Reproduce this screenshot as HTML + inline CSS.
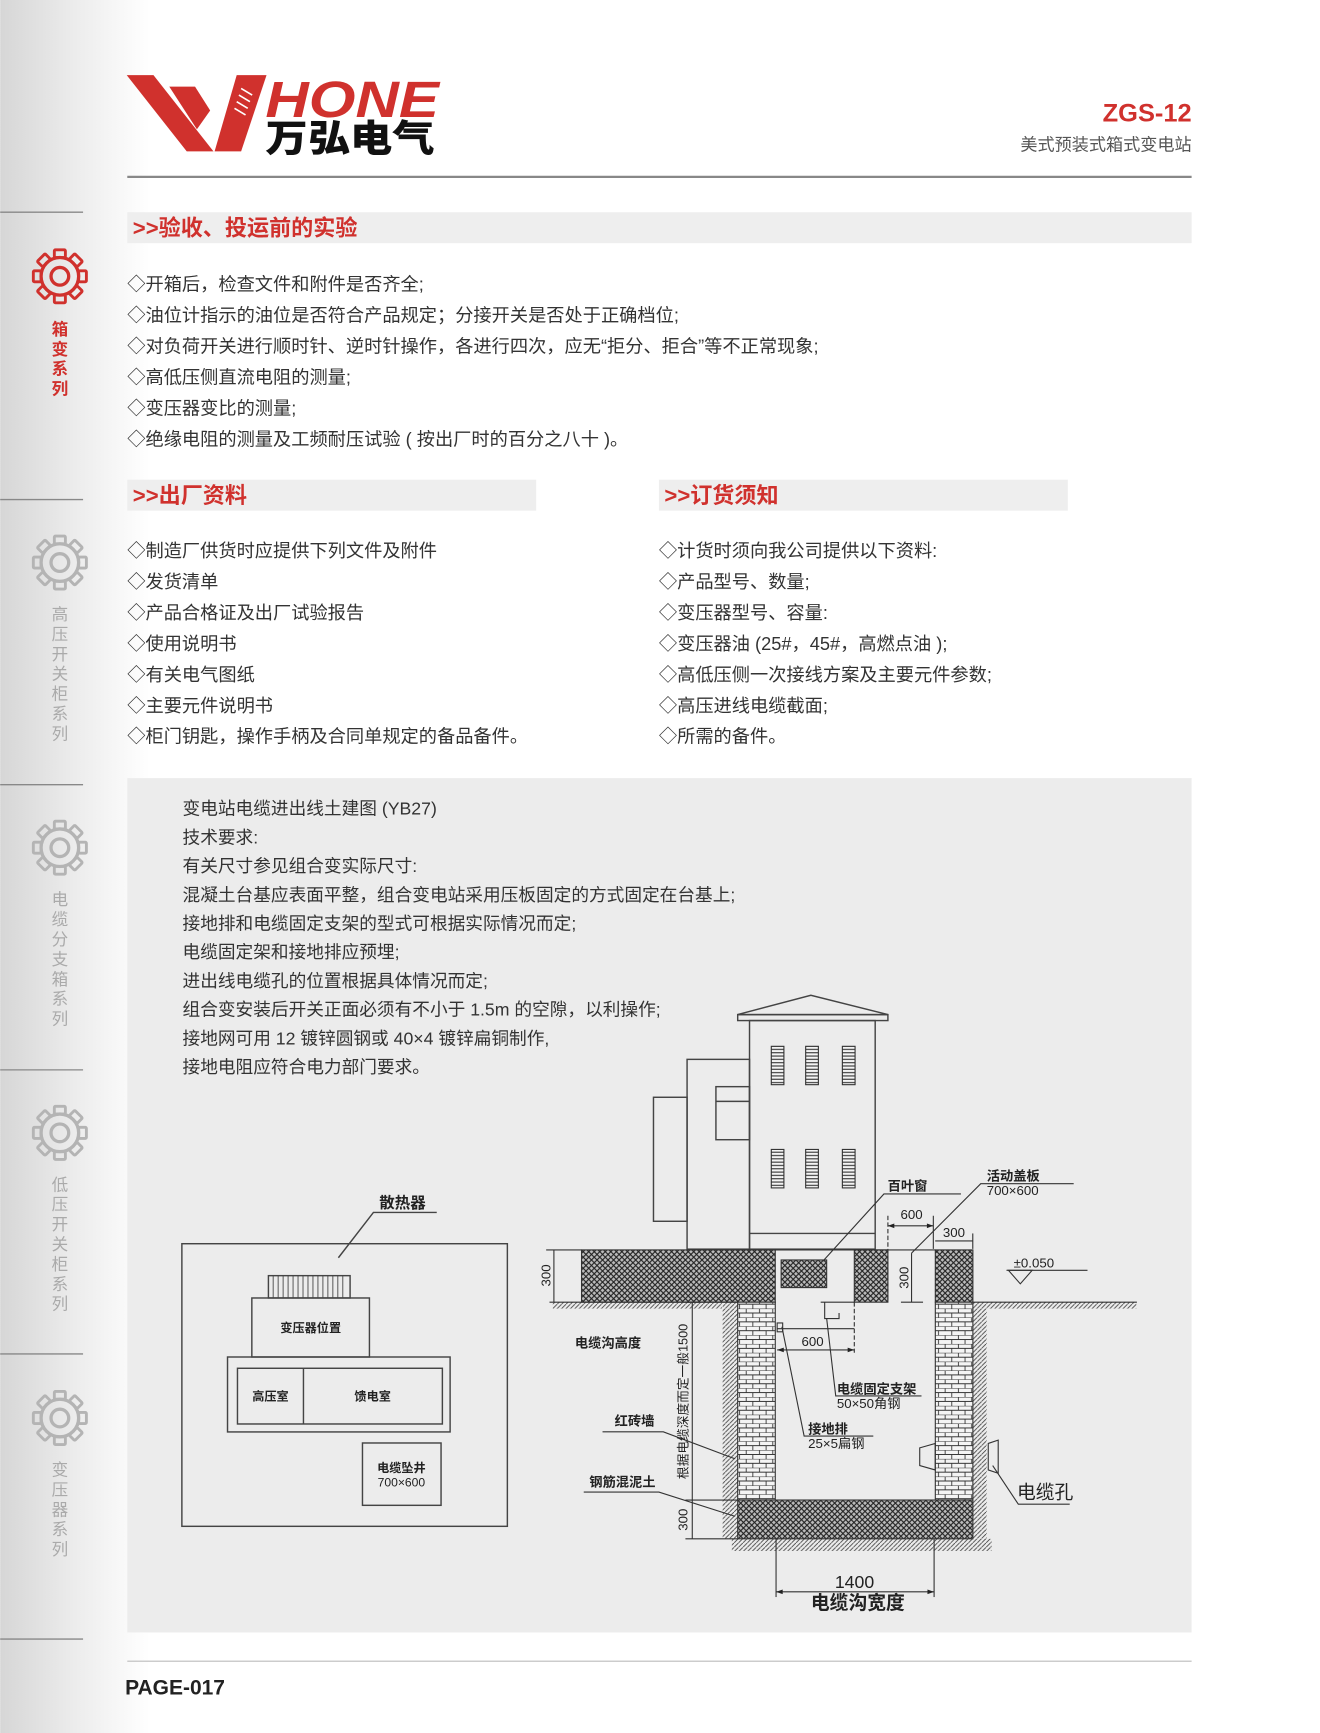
<!DOCTYPE html>
<html><head><meta charset="utf-8"><style>
html,body{margin:0;padding:0;background:#fff;}
svg{display:block;}
text{font-family:"Liberation Sans","Noto Sans CJK SC",sans-serif;}
</style></head><body>
<svg width="1320" height="1733" viewBox="0 0 1194 1568" xmlns="http://www.w3.org/2000/svg">
<defs>
<linearGradient id="side" x1="0" x2="1" y1="0" y2="0">
<stop offset="0" stop-color="#d6d6d6"/><stop offset="0.5" stop-color="#ececec"/><stop offset="1" stop-color="#ffffff"/>
</linearGradient>
<pattern id="cross" width="5" height="5" patternUnits="userSpaceOnUse">
<rect width="5" height="5" fill="#bbb"/>
<path d="M0,0L5,5M5,0L0,5" stroke="#222" stroke-width="1"/>
</pattern>
<pattern id="brick" width="12" height="8" patternUnits="userSpaceOnUse">
<rect width="12" height="8" fill="#f4f4f4"/>
<path d="M0,0H12M0,4H12M3,0V4M9,4V8" stroke="#333" stroke-width="0.8"/>
</pattern>
<pattern id="earth" width="4" height="4" patternUnits="userSpaceOnUse">
<path d="M0,4L4,0" stroke="#444" stroke-width="0.8"/>
</pattern>
<pattern id="slat" width="4" height="3" patternUnits="userSpaceOnUse">
<rect width="4" height="3" fill="#f4f4f4"/>
<path d="M0,1.5H4" stroke="#333" stroke-width="1"/>
</pattern>
<g id="gear">
<circle r="17" fill="none" stroke="currentColor" stroke-width="3"/>
<circle r="8" fill="none" stroke="currentColor" stroke-width="3"/>
<g fill="none" stroke="currentColor" stroke-width="2.6">
<rect x="-5" y="-24" width="10" height="7" rx="1"/>
<rect x="-5" y="-24" width="10" height="7" rx="1" transform="rotate(45)"/>
<rect x="-5" y="-24" width="10" height="7" rx="1" transform="rotate(90)"/>
<rect x="-5" y="-24" width="10" height="7" rx="1" transform="rotate(135)"/>
<rect x="-5" y="-24" width="10" height="7" rx="1" transform="rotate(180)"/>
<rect x="-5" y="-24" width="10" height="7" rx="1" transform="rotate(225)"/>
<rect x="-5" y="-24" width="10" height="7" rx="1" transform="rotate(270)"/>
<rect x="-5" y="-24" width="10" height="7" rx="1" transform="rotate(315)"/>
</g>
</g>
</defs>
<rect width="1194" height="1568" fill="#fff"/>
<rect width="135" height="1568" fill="url(#side)"/>
<g stroke="#888" stroke-width="1.2">
<line x1="0" y1="192" x2="75" y2="192"/><line x1="0" y1="452" x2="75" y2="452"/>
<line x1="0" y1="710" x2="75" y2="710"/><line x1="0" y1="968" x2="75" y2="968"/>
<line x1="0" y1="1225" x2="75" y2="1225"/><line x1="0" y1="1483" x2="75" y2="1483"/>
</g>
<use href="#gear" x="54" y="250" style="color:#d0312d"/>
<use href="#gear" x="54" y="509" style="color:#b4b4b4"/>
<use href="#gear" x="54" y="767" style="color:#b4b4b4"/>
<use href="#gear" x="54" y="1025" style="color:#b4b4b4"/>
<use href="#gear" x="54" y="1283" style="color:#b4b4b4"/>
<g font-size="15" text-anchor="middle" fill="#d0312d" font-weight="bold">
<text x="54" y="303">箱</text><text x="54" y="321">变</text><text x="54" y="339">系</text><text x="54" y="357">列</text>
</g>
<g font-size="15" text-anchor="middle" fill="#aaa">
<text x="54" y="561">高</text><text x="54" y="579">压</text><text x="54" y="597">开</text><text x="54" y="615">关</text><text x="54" y="633">柜</text><text x="54" y="651">系</text><text x="54" y="669">列</text>
<text x="54" y="819">电</text><text x="54" y="837">缆</text><text x="54" y="855">分</text><text x="54" y="873">支</text><text x="54" y="891">箱</text><text x="54" y="909">系</text><text x="54" y="927">列</text>
<text x="54" y="1077">低</text><text x="54" y="1095">压</text><text x="54" y="1113">开</text><text x="54" y="1131">关</text><text x="54" y="1149">柜</text><text x="54" y="1167">系</text><text x="54" y="1185">列</text>
<text x="54" y="1335">变</text><text x="54" y="1353">压</text><text x="54" y="1371">器</text><text x="54" y="1389">系</text><text x="54" y="1407">列</text>
</g>
<!-- logo -->
<g fill="#d0312d">
<polygon points="114.5,68 138.7,68 193,137 168.8,137"/>
<polygon points="153,78.4 176.3,78.4 190,100 178,117"/>
<polygon points="214,68 241,68 218,137 194,137"/>
</g>
<g stroke="#fff" stroke-width="1.5"><line x1="218" y1="80" x2="228" y2="86"/><line x1="216" y1="86" x2="226" y2="92"/><line x1="214" y1="92" x2="224" y2="98"/><line x1="212" y1="98" x2="222" y2="104"/></g>
<text x="240" y="106" font-size="46" font-weight="bold" font-style="italic" fill="#d0312d" textLength="157" lengthAdjust="spacingAndGlyphs">HONE</text>
<text x="240" y="137" font-size="34" font-weight="900" fill="#111" textLength="153" lengthAdjust="spacingAndGlyphs">万弘电气</text>
<text x="1078" y="110" font-size="23" font-weight="bold" fill="#d0312d" text-anchor="end">ZGS-12</text>
<text x="1078" y="136" font-size="15.5" fill="#555" text-anchor="end">美式预装式箱式变电站</text>
<line x1="115" y1="160" x2="1078" y2="160" stroke="#888" stroke-width="2"/>
<!-- sections -->
<rect x="115" y="192" width="963" height="28" fill="#eeeeee"/>
<text x="120" y="213" font-size="20" font-weight="bold" fill="#d0312d">&gt;&gt;验收、投运前的实验</text>
<g font-size="16.5" fill="#333">
<text x="115" y="263">◇开箱后，检查文件和附件是否齐全;</text>
<text x="115" y="291">◇油位计指示的油位是否符合产品规定；分接开关是否处于正确档位;</text>
<text x="115" y="319">◇对负荷开关进行顺时针、逆时针操作，各进行四次，应无“拒分、拒合”等不正常现象;</text>
<text x="115" y="347">◇高低压侧直流电阻的测量;</text>
<text x="115" y="375">◇变压器变比的测量;</text>
<text x="115" y="403">◇绝缘电阻的测量及工频耐压试验 ( 按出厂时的百分之八十 )。</text>
</g>
<rect x="115" y="434" width="370" height="28" fill="#eeeeee"/>
<text x="120" y="455" font-size="20" font-weight="bold" fill="#d0312d">&gt;&gt;出厂资料</text>
<rect x="596" y="434" width="370" height="28" fill="#eeeeee"/>
<text x="601" y="455" font-size="20" font-weight="bold" fill="#d0312d">&gt;&gt;订货须知</text>
<g font-size="16.5" fill="#333">
<text x="115" y="504">◇制造厂供货时应提供下列文件及附件</text>
<text x="115" y="532">◇发货清单</text>
<text x="115" y="560">◇产品合格证及出厂试验报告</text>
<text x="115" y="588">◇使用说明书</text>
<text x="115" y="616">◇有关电气图纸</text>
<text x="115" y="644">◇主要元件说明书</text>
<text x="115" y="672">◇柜门钥匙，操作手柄及合同单规定的备品备件。</text>
<text x="596" y="504">◇计货时须向我公司提供以下资料:</text>
<text x="596" y="532">◇产品型号、数量;</text>
<text x="596" y="560">◇变压器型号、容量:</text>
<text x="596" y="588">◇变压器油 (25#，45#，高燃点油 );</text>
<text x="596" y="616">◇高低压侧一次接线方案及主要元件参数;</text>
<text x="596" y="644">◇高压进线电缆截面;</text>
<text x="596" y="672">◇所需的备件。</text>
</g>
<!-- diagram panel -->
<rect x="115" y="704" width="963" height="773" fill="#ececec"/>
<g font-size="16" fill="#333">
<text x="165" y="737">变电站电缆进出线土建图 (YB27)</text>
<text x="165" y="763">技术要求:</text>
<text x="165" y="789">有关尺寸参见组合变实际尺寸:</text>
<text x="165" y="815">混凝土台基应表面平整，组合变电站采用压板固定的方式固定在台基上;</text>
<text x="165" y="841">接地排和电缆固定支架的型式可根据实际情况而定;</text>
<text x="165" y="867">电缆固定架和接地排应预埋;</text>
<text x="165" y="893">进出线电缆孔的位置根据具体情况而定;</text>
<text x="165" y="919">组合变安装后开关正面必须有不小于 1.5m 的空隙，以利操作;</text>
<text x="165" y="945">接地网可用 12 镀锌圆钢或 40×4 镀锌扁铜制作,</text>
<text x="165" y="971">接地电阻应符合电力部门要求。</text>
</g>
<!-- left plan -->
<g fill="none" stroke="#444" stroke-width="1.3">
<rect x="164.4" y="1125.3" width="294.5" height="255.7"/>
<rect x="227.7" y="1174.4" width="106.4" height="53.4"/>
<rect x="242.7" y="1154.2" width="73.9" height="20.2"/>
<rect x="205.7" y="1227.8" width="201.4" height="67.8"/>
<rect x="214.7" y="1238" width="185.4" height="50.4"/>
<line x1="274.4" y1="1238" x2="274.4" y2="1288.4"/>
<rect x="327.8" y="1305.6" width="71.1" height="56.4"/>
<polyline points="395,1097 337.7,1097 306,1138"/>
</g>
<g stroke="#444" stroke-width="0.8">
<line x1="247" y1="1154" x2="247" y2="1174"/><line x1="251.5" y1="1154" x2="251.5" y2="1174"/><line x1="256" y1="1154" x2="256" y2="1174"/><line x1="260.5" y1="1154" x2="260.5" y2="1174"/><line x1="265" y1="1154" x2="265" y2="1174"/><line x1="269.5" y1="1154" x2="269.5" y2="1174"/><line x1="274" y1="1154" x2="274" y2="1174"/><line x1="278.5" y1="1154" x2="278.5" y2="1174"/><line x1="283" y1="1154" x2="283" y2="1174"/><line x1="287.5" y1="1154" x2="287.5" y2="1174"/><line x1="292" y1="1154" x2="292" y2="1174"/><line x1="296.5" y1="1154" x2="296.5" y2="1174"/><line x1="301" y1="1154" x2="301" y2="1174"/><line x1="305.5" y1="1154" x2="305.5" y2="1174"/><line x1="310" y1="1154" x2="310" y2="1174"/>
</g>
<g font-size="11" fill="#222" text-anchor="middle" font-weight="bold">
<text x="364" y="1093" font-size="14">散热器</text>
<text x="281" y="1205">变压器位置</text>
<text x="244.5" y="1267">高压室</text>
<text x="337" y="1267">馈电室</text>
<text x="363" y="1332">电缆坠井</text>
<text x="363" y="1345" font-weight="normal">700×600</text>
</g>
<!-- right section -->
<g fill="none" stroke="#444" stroke-width="1.3">
<polygon points="667.3,918 733.5,900.5 803.2,918"/>
<rect x="667.3" y="918" width="135.9" height="5.4"/>
<rect x="678" y="923.4" width="113.7" height="206.8"/>
<line x1="678" y1="1116" x2="791.7" y2="1116"/>
<rect x="621.5" y="958.5" width="56.5" height="171.7"/>
<rect x="591.1" y="992.8" width="30.4" height="112.2"/>
<rect x="647.6" y="983.2" width="30.4" height="48"/>
<line x1="647.6" y1="996.5" x2="678" y2="996.5"/>
</g>
<g fill="url(#slat)" stroke="#333" stroke-width="1">
<rect x="697.7" y="946.7" width="11.4" height="34.7"/><rect x="728.8" y="946.7" width="11.5" height="34.7"/><rect x="762" y="946.7" width="11.5" height="34.7"/>
<rect x="697.7" y="1040" width="11.4" height="34.8"/><rect x="728.8" y="1040" width="11.5" height="34.8"/><rect x="762" y="1040" width="11.5" height="34.8"/>
</g>
<g stroke="#333" stroke-width="1">
<rect x="526" y="1130.9" width="175.3" height="47.3" fill="url(#cross)"/>
<rect x="706.6" y="1140" width="41.2" height="25" fill="url(#cross)"/>
<rect x="772.8" y="1130.9" width="30.4" height="47.3" fill="url(#cross)"/>
<rect x="846.1" y="1130.9" width="34" height="47.3" fill="url(#cross)"/>
<rect x="653.7" y="1178.2" width="13.6" height="214" fill="url(#earth)" stroke="none"/>
<rect x="880.1" y="1178.2" width="12.5" height="214" fill="url(#earth)" stroke="none"/>
<rect x="662" y="1392.3" width="235" height="11" fill="url(#earth)" stroke="none"/>
<rect x="500" y="1178.2" width="153" height="6" fill="url(#earth)" stroke="none"/>
<rect x="893" y="1178.2" width="135" height="6" fill="url(#earth)" stroke="none"/>
<rect x="667.3" y="1178.2" width="34" height="179" fill="url(#brick)"/>
<rect x="846.1" y="1178.2" width="34" height="179" fill="url(#brick)"/>
<rect x="667.3" y="1357.2" width="212.8" height="35.1" fill="url(#cross)"/>
</g>
<g fill="none" stroke="#333" stroke-width="1">
<line x1="701.3" y1="1130.9" x2="846.1" y2="1130.9"/>
<line x1="497" y1="1178.2" x2="667.3" y2="1178.2"/>
<line x1="880" y1="1178.2" x2="1028.5" y2="1178.2"/>
<line x1="494" y1="1130.9" x2="526" y2="1130.9"/>
<line x1="501" y1="1130.9" x2="501" y2="1178.2"/>
<line x1="626.2" y1="1178.2" x2="626.2" y2="1392.3"/>
<line x1="620" y1="1357.2" x2="667" y2="1357.2"/>
<line x1="620" y1="1392.3" x2="667" y2="1392.3"/>
<line x1="620" y1="1178.2" x2="632" y2="1178.2"/>
<line x1="803.2" y1="1109.1" x2="844.3" y2="1109.1"/>
<line x1="803.2" y1="1100" x2="803.2" y2="1178" stroke-dasharray="4,2"/>
<line x1="844.3" y1="1100" x2="844.3" y2="1130"/>
<line x1="846" y1="1122.8" x2="880" y2="1122.8"/>
<line x1="880" y1="1116" x2="880" y2="1130"/>
<line x1="824.6" y1="1133.8" x2="824.6" y2="1178.2"/>
<line x1="815" y1="1178.2" x2="835" y2="1178.2"/>
<line x1="910.5" y1="1149.4" x2="983.8" y2="1149.4"/>
<polygon points="912.3,1149.4 933.7,1149.4 923,1161.6"/>
<polyline points="742.4,1178.2 772.8,1178.2"/>
<polyline points="746,1178.2 746,1193 759,1193 759,1188"/>
<line x1="772.8" y1="1178.2" x2="772.8" y2="1224" stroke-dasharray="4,2"/>
<line x1="703" y1="1202.2" x2="772.8" y2="1202.2"/>
<line x1="703" y1="1221.4" x2="772.8" y2="1221.4"/>
<rect x="703" y="1197" width="5" height="8"/>
<polyline points="747.8,1193 756,1263 833.6,1263"/>
<polyline points="707.3,1200.4 727.4,1299.3 790,1299.3"/>
<polyline points="869.3,1080.3 799.6,1080.3 744.2,1141.3"/>
<polyline points="971.3,1071 887.2,1071 824.6,1133.8"/>
<polyline points="545,1295.5 600,1295.5 665,1320"/>
<polyline points="528,1350 596,1350 665,1372"/>
<polyline points="898,1326 921.2,1361 967.7,1361"/>
<polygon points="832,1310 846,1306 846,1330 832,1326"/>
<polygon points="894,1306 903,1303 903,1333 894,1330"/>
<line x1="702" y1="1392" x2="702" y2="1445"/>
<line x1="845" y1="1392" x2="845" y2="1445"/>
<line x1="702" y1="1440.3" x2="845" y2="1440.3"/>
</g>
<g fill="#222">
<polygon points="803.2,1109.1 809,1107 809,1111.2"/><polygon points="844.3,1109.1 838.5,1107 838.5,1111.2"/>
<polygon points="703,1221.4 709,1219.3 709,1223.5"/><polygon points="772.8,1221.4 766.8,1219.3 766.8,1223.5"/>
<polygon points="702,1440.3 708,1438.2 708,1442.4"/><polygon points="845,1440.3 839,1438.2 839,1442.4"/>
</g>
<g font-size="12" fill="#222">
<text x="824.6" y="1103" text-anchor="middle">600</text>
<text x="863" y="1119" text-anchor="middle">300</text>
<text x="735" y="1218" text-anchor="middle">600</text>
<text x="917" y="1147">±0.050</text>
<text x="803" y="1077" font-weight="bold">百叶窗</text>
<text x="892.6" y="1068" font-weight="bold">活动盖板</text>
<text x="892.6" y="1081">700×600</text>
<text x="520" y="1219" font-weight="bold">电缆沟高度</text>
<text x="556" y="1290" font-weight="bold">红砖墙</text>
<text x="533" y="1345" font-weight="bold">钢筋混泥土</text>
<text x="757" y="1261" font-weight="bold">电缆固定支架</text>
<text x="757" y="1274">50×50角钢</text>
<text x="731" y="1297" font-weight="bold">接地排</text>
<text x="731" y="1310">25×5扁钢</text>
<text x="920" y="1356" font-size="17">电缆孔</text>
<text x="773" y="1437" font-size="16" text-anchor="middle">1400</text>
<text x="776" y="1456" font-size="17" text-anchor="middle" font-weight="bold">电缆沟宽度</text>
<text transform="translate(498,1154) rotate(-90)" text-anchor="middle">300</text>
<text transform="translate(822,1156) rotate(-90)" text-anchor="middle">300</text>
<text transform="translate(622,1268) rotate(-90)" text-anchor="middle" font-size="11.5">根据电缆深度而定一般1500</text>
<text transform="translate(622,1375) rotate(-90)" text-anchor="middle">300</text>
</g>
<line x1="115" y1="1503" x2="1078" y2="1503" stroke="#bbb" stroke-width="1"/>
<text x="113" y="1533" font-size="19" font-weight="bold" fill="#222">PAGE-017</text>
</svg>
</body></html>
